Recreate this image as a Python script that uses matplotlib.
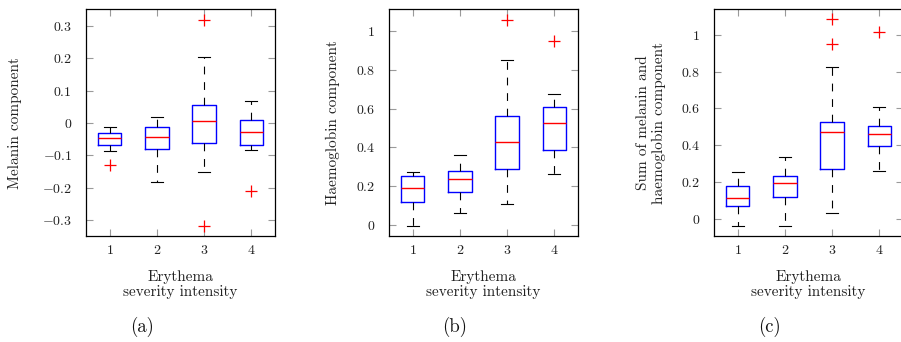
import matplotlib
matplotlib.use("Agg")
import matplotlib.pyplot as plt

plt.rcParams['font.family'] = 'serif'
plt.rcParams['font.serif'] = ['cmr10', 'DejaVu Serif']
plt.rcParams['mathtext.fontset'] = 'cm'
plt.rcParams['axes.formatter.use_mathtext'] = True

categories = [1, 2, 3, 4]

# Panel (a): melanin component
a_whislo = [-0.087, -0.182, -0.153, -0.085]
a_q1 = [-0.069, -0.081, -0.063, -0.067]
a_med = [-0.045, -0.044, 0.005, -0.027]
a_q3 = [-0.032, -0.011, 0.055, 0.008]
a_whishi = [-0.012, 0.020, 0.205, 0.067]
a_fliers = [[-0.131], [], [0.320, -0.318], [-0.210]]
a_yticks = [-0.3, -0.2, -0.1, 0, 0.1, 0.2, 0.3]

# Panel (b): haemoglobin component
b_whislo = [-0.003, 0.060, 0.108, 0.265]
b_q1 = [0.117, 0.170, 0.287, 0.389]
b_med = [0.191, 0.238, 0.427, 0.527]
b_q3 = [0.251, 0.281, 0.561, 0.611]
b_whishi = [0.275, 0.361, 0.850, 0.678]
b_fliers = [[], [], [1.060], [0.952]]
b_yticks = [0, 0.2, 0.4, 0.6, 0.8, 1]

# Panel (c): sum
c_whislo = [-0.038, -0.038, 0.033, 0.261]
c_q1 = [0.067, 0.120, 0.269, 0.396]
c_med = [0.111, 0.196, 0.472, 0.459]
c_q3 = [0.180, 0.234, 0.528, 0.505]
c_whishi = [0.256, 0.334, 0.822, 0.608]
c_fliers = [[], [], [1.083, 0.951], [1.016]]
c_yticks = [0, 0.2, 0.4, 0.6, 0.8, 1]

xlabel = "Erythema\nseverity intensity"
ylabels = ["Melanin component", "Haemoglobin component",
           "Sum of melanin and\nhaemoglobin component"]
captions = ["(a)", "(b)", "(c)"]

W, H = 901, 342
fig = plt.figure(figsize=(W / 100, H / 100), dpi=100)

panels = [
    (a_whislo, a_q1, a_med, a_q3, a_whishi, a_fliers, a_yticks, (-0.35, 0.353), 86),
    (b_whislo, b_q1, b_med, b_q3, b_whishi, b_fliers, b_yticks, (-0.057, 1.115), 389),
    (c_whislo, c_q1, c_med, c_q3, c_whishi, c_fliers, c_yticks, (-0.094, 1.14), 714),
]
ylabel_x = [15, 333, 651]
caption_x = [142, 455, 770]

for i, (wl, q1, md, q3, wh, fl, yt, ylim, left_px) in enumerate(panels):
    ax = fig.add_axes([left_px / W, (H - 236) / H, 189 / W, 227 / H])
    stats = []
    for k in range(len(categories)):
        stats.append(dict(whislo=wl[k], q1=q1[k], med=md[k], q3=q3[k],
                          whishi=wh[k], fliers=fl[k], label=str(categories[k])))
    ax.bxp(stats, positions=categories, widths=0.5, patch_artist=False,
           boxprops=dict(color='#0000ff', linewidth=1.0),
           medianprops=dict(color='#ff0000', linewidth=1.0),
           whiskerprops=dict(color='black', linewidth=0.8, linestyle=(0, (7, 7))),
           capprops=dict(color='black', linewidth=0.8),
           capwidths=0.25,
           flierprops=dict(marker='+', markeredgecolor='#ff0000', markersize=8,
                           markeredgewidth=0.9, linestyle='none'))
    ax.set_xlim(0.5, 4.5)
    ax.set_ylim(*ylim)
    ax.set_xticks(categories)
    ax.set_xticklabels([f'${c}$' for c in categories])
    ax.set_yticks(yt)
    ax.set_yticklabels([f'${v:g}$' for v in yt])
    ax.tick_params(direction='in', length=5, width=0.8, color='#9a9a9a',
                   top=True, right=True, labelsize=10, labelcolor='#222222')
    ax.tick_params(axis='y', pad=10)
    ax.tick_params(axis='x', pad=6)
    for s in ax.spines.values():
        s.set_linewidth(0.9)
        s.set_color('black')
    fig.text((left_px + 94.5) / W, 1 - 284.5 / H, xlabel, ha='center', va='center',
             fontsize=11, color='#222222', linespacing=1.12)
    fig.text(ylabel_x[i] / W, 1 - 123 / H, ylabels[i], ha='center', va='center',
             rotation=90, fontsize=11, color='#222222', linespacing=1.12)
    fig.text(caption_x[i] / W, 1 - 327 / H, captions[i], ha='center', va='center',
             fontsize=13.5, color='#111111')

fig.savefig('out.png', dpi=100)
